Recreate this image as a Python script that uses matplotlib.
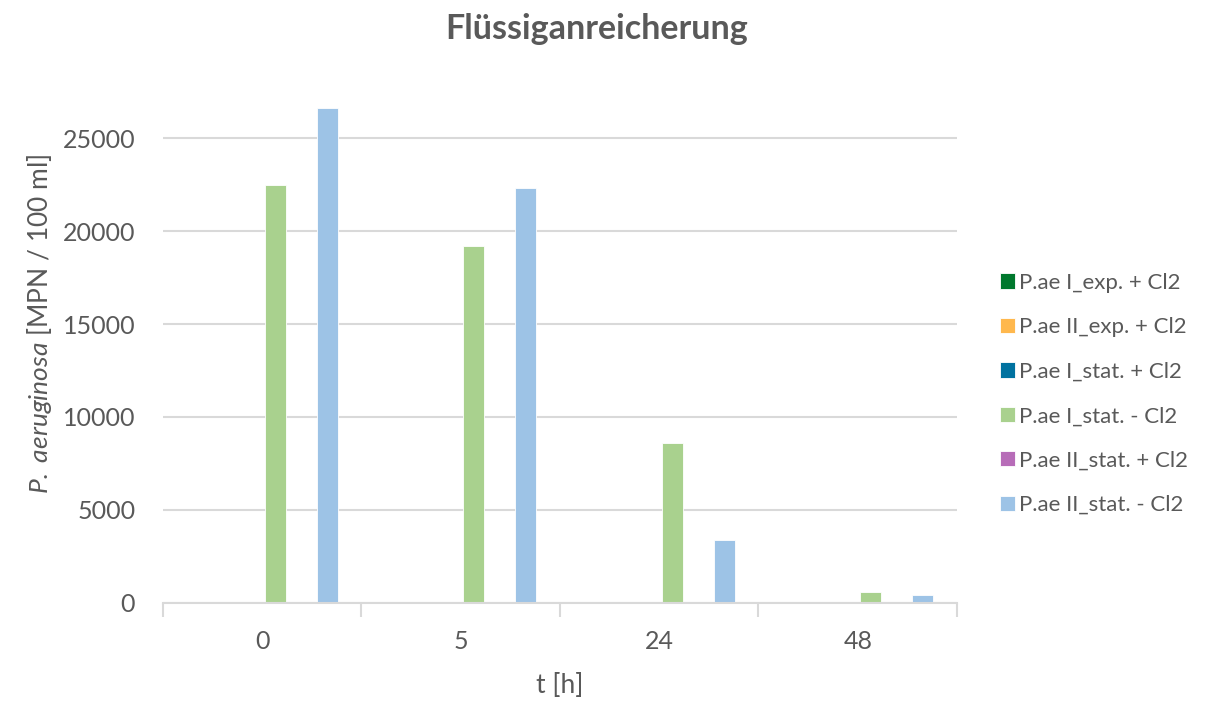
import matplotlib
matplotlib.use("Agg")
import matplotlib.pyplot as plt
import numpy as np

categories = ["0", "5", "24", "48"]
series_names = ["P.ae I_exp. + Cl2", "P.ae II_exp. + Cl2", "P.ae I_stat. + Cl2",
                "P.ae I_stat. - Cl2", "P.ae II_stat. + Cl2", "P.ae II_stat. - Cl2"]
ae1_exp_cl = [0, 0, 0, 0]
ae2_exp_cl = [0, 0, 0, 0]
ae1_stat_cl = [0, 0, 0, 0]
ae1_stat_nocl = [22500, 19200, 8600, 560]
ae2_stat_cl = [0, 0, 0, 0]
ae2_stat_nocl = [26650, 22300, 3350, 400]
colors = ["#00782D", "#FFB84D", "#0072A0", "#A9D18E", "#B76CB8", "#9DC3E6"]
yticks = [0, 5000, 10000, 15000, 20000, 25000]

plt.rcParams['font.family'] = ['Lato', 'DejaVu Sans']
plt.rcParams['mathtext.fontset'] = 'custom'
plt.rcParams['mathtext.rm'] = 'Lato'
plt.rcParams['mathtext.it'] = 'Lato:italic'

txt = "#595959"
grid = "#D9D9D9"

fig = plt.figure(figsize=(12.10, 7.01), dpi=100)
ax = fig.add_axes([0.1347, 0.1402, 0.7909 - 0.1347, 0.9352 - 0.1402])

data = [ae1_exp_cl, ae2_exp_cl, ae1_stat_cl, ae1_stat_nocl, ae2_stat_cl, ae2_stat_nocl]
x = np.arange(len(categories))
pitch = 0.131
width = 0.106
handles = []
for i, (vals, c, name) in enumerate(zip(data, colors, series_names)):
    b = ax.bar(x + (i - 2.5) * pitch, vals, width, color=c, edgecolor="white",
               linewidth=0.6, label=name, zorder=3)
    handles.append(b)

ax.set_xlim(-0.5, len(categories) - 0.5)
ax.set_ylim(0, 30000)
ax.set_yticks(yticks)
ax.set_yticklabels([str(v) for v in yticks])
ax.yaxis.grid(True, color=grid, linewidth=1.5, zorder=0)
ax.set_axisbelow(True)
for s in ["top", "right", "left"]:
    ax.spines[s].set_visible(False)
ax.spines["bottom"].set_color(grid)
ax.spines["bottom"].set_linewidth(1.5)
ax.spines["bottom"].set_zorder(4)

ax.set_xticks(x)
ax.set_xticklabels(categories)
ax.set_xticks(np.arange(-0.5, len(categories), 1.0), minor=True)
ax.tick_params(axis="x", which="major", length=0, pad=20, labelsize=18, labelcolor=txt)
ax.tick_params(axis="x", which="minor", length=10, width=1.5, color=grid)
ax.tick_params(axis="y", length=0, pad=20, labelsize=18, labelcolor=txt)

ax.set_xlabel("t [h]", fontsize=19, color=txt)
ax.xaxis.set_label_coords(0.5, -0.149)
ax.xaxis.label.set_va("center")
ax.set_ylabel(r"$\mathit{P.}$ $\mathit{aeruginosa}$ [MPN / 100 ml]", fontsize=19, color=txt)
ax.yaxis.set_label_coords(-0.155, 0.5)
ax.yaxis.label.set_va("center")

fig.text(0.4934, 0.959, "Flüssiganreicherung", ha="center", va="center",
         fontsize=24.5, fontweight="bold", color=txt)

leg = fig.legend(handles=handles, labels=series_names, loc="center left",
                 bbox_to_anchor=(0.8097, 0.438), frameon=False, fontsize=16,
                 labelcolor=txt, handlelength=0.68, handleheight=0.68,
                 handletextpad=0.2, labelspacing=1.1)

fig.savefig("out.png", dpi=100)
